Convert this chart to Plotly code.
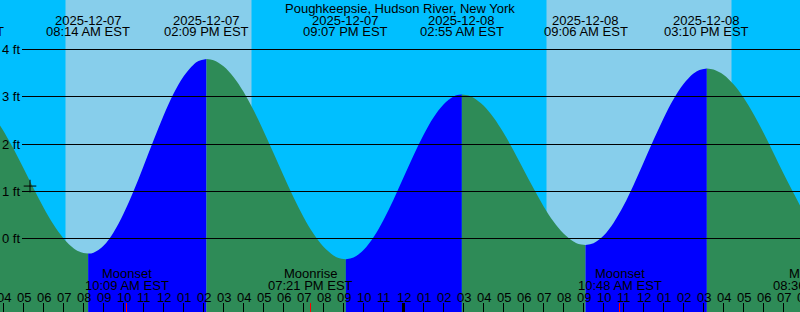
import plotly.graph_objects as go

TITLE = "Poughkeepsie, Hudson River, New York"
FONT = "Liberation Sans, Arial, sans-serif"

# time axis: hours since 2025-12-07 00:00 EST
x_start, x_end = 3.825, 43.825
y_low, y_high = -1.5556, 5.0476

# tide curve (hours, feet)
tide_hours = [3.825, 4, 4.5, 5, 5.5, 6, 6.5, 7, 7.5, 7.75, 8, 8.233, 8.5, 9, 9.5, 10, 10.5,
              11, 11.5, 12, 12.5, 13, 13.5, 13.75, 14.15, 14.5, 15, 15.5, 16, 16.5, 17, 17.5,
              18, 18.5, 19, 19.5, 20, 20.5, 20.75, 21.117, 21.5, 22, 22.5, 23, 23.5, 24,
              24.5, 25, 25.5, 26, 26.5, 26.7, 26.917, 27.25, 27.5, 28, 28.5, 29, 29.5, 30,
              30.5, 31, 31.5, 32, 32.5, 32.75, 33.1, 33.5, 34, 34.5, 35, 35.5, 36, 36.5, 37,
              37.5, 38, 38.5, 38.8, 39.167, 39.5, 40, 40.5, 41, 41.5, 42, 42.5, 43, 43.825]
tide_feet = [2.394, 2.277, 1.899, 1.485, 1.061, 0.654, 0.294, 0.002, -0.204, -0.269, -0.308,
             -0.320, -0.299, -0.151, 0.129, 0.523, 1.000, 1.531, 2.075, 2.597, 3.062, 3.428,
             3.679, 3.754, 3.800, 3.774, 3.646, 3.419, 3.104, 2.718, 2.277, 1.808, 1.331,
             0.872, 0.454, 0.098, -0.176, -0.358, -0.411, -0.440, -0.403, -0.244, 0.027,
             0.392, 0.822, 1.289, 1.756, 2.191, 2.563, 2.838, 3.006, 3.038, 3.050, 3.027,
             2.981, 2.815, 2.561, 2.238, 1.863, 1.462, 1.061, 0.685, 0.358, 0.104, -0.065,
             -0.116, -0.140, -0.100, 0.059, 0.330, 0.691, 1.128, 1.601, 2.082, 2.541, 2.946,
             3.268, 3.490, 3.566, 3.600, 3.578, 3.467, 3.264, 2.982, 2.636, 2.236, 1.810,
             1.375, 0.700]

# tide extremes (labels on top)
extreme_hours = [1.917, 8.233, 14.15, 21.117, 26.917, 33.1, 39.167]
extreme_dates = ["2025-12-07", "2025-12-07", "2025-12-07", "2025-12-07",
                 "2025-12-08", "2025-12-08", "2025-12-08"]
extreme_times = ["01:55 AM EST", "08:14 AM EST", "02:09 PM EST", "09:07 PM EST",
                 "02:55 AM EST", "09:06 AM EST", "03:10 PM EST"]

# daylight
sunrise_hours = [7.1, 31.15]
sunset_hours = [16.4, 40.4]

# moon events
moon_hours = [10.15, 19.35, 34.8, 44.6]
moon_names = ["Moonset", "Moonrise", "Moonset", "Moonrise"]
moon_times = ["10:09 AM EST", "07:21 PM EST", "10:48 AM EST", "08:36 PM EST"]

# current time marker
now_hour, now_feet = [5.325], [1.11]

# hour ticks
tick_hours = list(range(4, 45))
tick_labels = ["04", "05", "06", "07", "08", "09", "10", "11", "12", "01", "02", "03",
               "04", "05", "06", "07", "08", "09", "10", "11", "12", "01", "02", "03",
               "04", "05", "06", "07", "08", "09", "10", "11", "12", "01", "02", "03",
               "04", "05", "06", "07", "08"]
midnight_hours = [24]

grid_levels = [0, 1, 2, 3, 4]
grid_labels = ["0 ft", "1 ft", "2 ft", "3 ft", "4 ft"]

NIGHT = "#00BFFF"
DAY = "#87CEEB"
RISE = "#0000FF"
FALL = "#2E8B57"
CLEAR = "rgba(0,0,0,0)"

W, H = 800, 312

fig = go.Figure()

bounds = [x_start] + [t for t in extreme_hours if x_start < t < x_end] + [x_end]
for a, b in zip(bounds[:-1], bounds[1:]):
    seg = [(t, h) for t, h in zip(tide_hours, tide_feet) if a <= t <= b]
    st = [p[0] for p in seg]
    sh = [p[1] for p in seg]
    color = RISE if sh[-1] > sh[0] else FALL
    fig.add_trace(go.Scatter(x=[a, b], y=[y_low, y_low], mode="lines",
                             line=dict(width=0), hoverinfo="skip", showlegend=False))
    fig.add_trace(go.Scatter(x=st, y=sh, mode="lines",
                             line=dict(width=0, shape="spline", color=color),
                             fill="tonexty", fillcolor=color,
                             hoverinfo="skip", showlegend=False))

fig.add_trace(go.Scatter(x=now_hour, y=now_feet, mode="markers",
                         marker=dict(symbol="cross-thin", size=9,
                                     line=dict(color="black", width=1)),
                         hoverinfo="skip", showlegend=False))

# dummy trace for the grid subplot
fig.add_trace(go.Scatter(x=[], y=[], xaxis="x2", yaxis="y2", showlegend=False))

shapes = []
for sr, ss in zip(sunrise_hours, sunset_hours):
    shapes.append(dict(type="rect", xref="x", yref="paper", x0=sr, x1=ss, y0=0, y1=1,
                       fillcolor=DAY, line=dict(width=0), layer="below"))
for m in midnight_hours:
    shapes.append(dict(type="line", xref="x", yref="paper", x0=m, x1=m, y0=0, y1=9 / H,
                       line=dict(color="black", width=3), layer="above"))
for m in moon_hours:
    if x_start < m < x_end:
        shapes.append(dict(type="line", xref="x", yref="paper", x0=m, x1=m, y0=0,
                           y1=9 / H, line=dict(color="red", width=1), layer="above"))


def xpos(t):
    if x_start <= t <= x_end:
        return "x", t
    return "paper", (t - x_start) / (x_end - x_start)


ann = []
f = dict(family=FONT, size=13, color="black")
ann.append(dict(text=TITLE, xref="paper", yref="paper", x=0.5, y=1 - 8 / H,
                showarrow=False, font=f, xanchor="center", yanchor="middle"))
for t, d, s in zip(extreme_hours, extreme_dates, extreme_times):
    xr, xv = xpos(t)
    ann.append(dict(text=d, xref=xr, yref="paper", x=xv, y=1 - 20 / H, showarrow=False,
                    font=f, xanchor="center", yanchor="middle"))
    ann.append(dict(text=s, xref=xr, yref="paper", x=xv, y=1 - 32 / H, showarrow=False,
                    font=f, xanchor="center", yanchor="middle"))
for t, n, s in zip(moon_hours, moon_names, moon_times):
    xr, xv = xpos(t)
    ann.append(dict(text=n, xref=xr, yref="paper", x=xv, y=1 - 273 / H, showarrow=False,
                    font=f, xanchor="center", yanchor="middle"))
    ann.append(dict(text=s, xref=xr, yref="paper", x=xv, y=1 - 285.5 / H, showarrow=False,
                    font=f, xanchor="center", yanchor="middle"))
for t, lab in zip(tick_hours, tick_labels):
    xr, xv = xpos(t)
    ann.append(dict(text=lab, xref=xr, yref="paper", x=xv, y=1 - 297.5 / H,
                    showarrow=False, font=f, xanchor="center", yanchor="middle"))
for lv, lab in zip(grid_levels, grid_labels):
    ann.append(dict(text=lab, xref="paper", yref="y", x=22 / W, y=lv, showarrow=False,
                    font=f, xanchor="right", yanchor="middle"))

fig.update_layout(
    width=W, height=H,
    margin=dict(l=0, r=0, t=0, b=0, pad=0),
    paper_bgcolor=NIGHT, plot_bgcolor=CLEAR,
    showlegend=False,
    xaxis=dict(domain=[0, 1], range=[x_start, x_end], showgrid=False, zeroline=False,
               showline=False, tickvals=tick_hours, ticks="inside", ticklen=9,
               tickcolor="black", tickwidth=1, showticklabels=False, fixedrange=True),
    yaxis=dict(domain=[0, 1], range=[y_low, y_high], showgrid=False, zeroline=False,
               showline=False, showticklabels=False, ticks="", fixedrange=True),
    xaxis2=dict(domain=[22 / W, 1], range=[x_start, x_end], anchor="y2", visible=False,
                showgrid=False, zeroline=False),
    yaxis2=dict(domain=[0, 1], range=[y_low, y_high], anchor="x2", showgrid=True,
                gridcolor="black", gridwidth=1, tickvals=grid_levels, zeroline=False,
                showline=False, showticklabels=False, ticks=""),
    shapes=shapes,
    annotations=ann,
)

fig.write_html("out.html", config={"displayModeBar": False})
